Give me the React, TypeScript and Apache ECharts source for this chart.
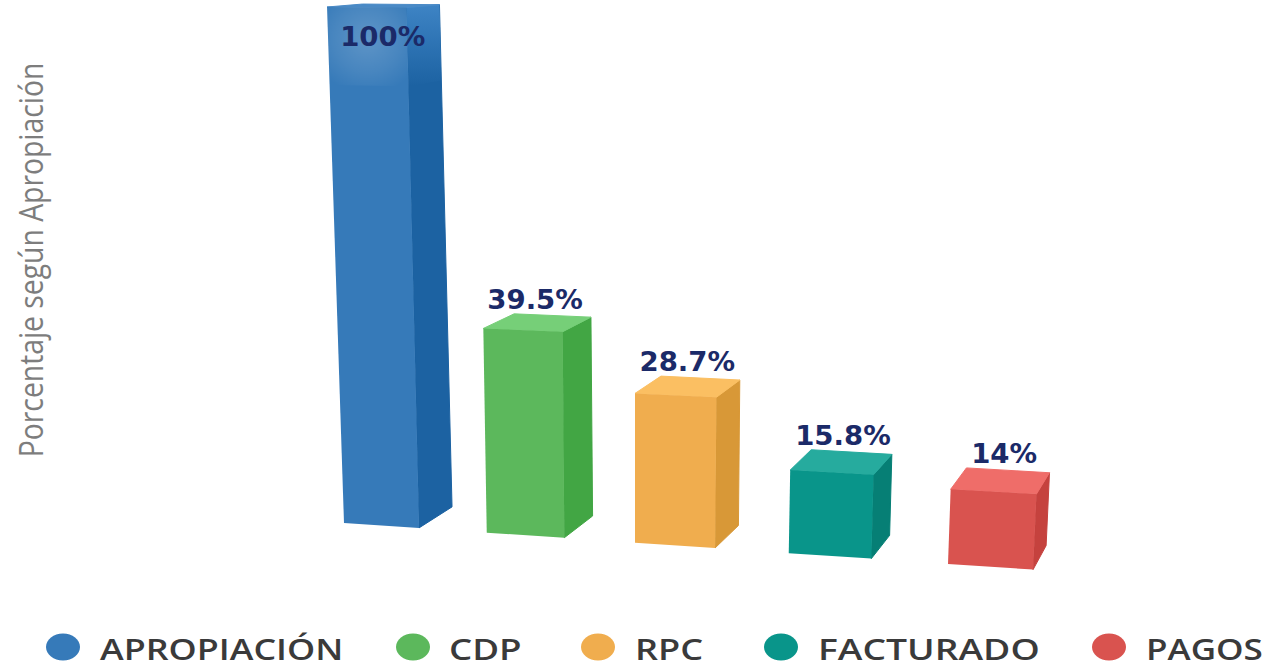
import React, { useEffect, useRef } from "react";
import * as echarts from "echarts";

const categories = ["APROPIACIÓN", "CDP", "RPC", "FACTURADO", "PAGOS"];
const percentages = [100, 39.5, 28.7, 15.8, 14];
const percentLabels = ["100%", "39.5%", "28.7%", "15.8%", "14%"];
const frontColors = ["#367ab9", "#5cb85c", "#f0ad4e", "#09958a", "#d9534f"];
const sideColors = ["#1c62a2", "#42a644", "#d89837", "#067f75", "#c5423e"];
const topColors = ["#4a8ac6", "#76cf78", "#fbbf62", "#26ab9e", "#ef6d69"];
const axisTitle = "Porcentaje según Apropiación";

const legendCircleX = [63, 413, 598, 781, 1109];
const legendTextX = [100, 449, 635, 818, 1146];
const legendScaleX = [1.28, 1.31, 1.29, 1.33, 1.25];

const renderBar = (params: any, api: any) => {
  const i = api.value(0);
  const v = api.value(1);
  const first = api.coord([0, 0]);
  const zero = api.coord([i, 0]);
  const t = i / 4;
  const xl = zero[0] - 44 * t * (1 - t);
  const xr = xl + api.size([1, 0])[0] * (0.497 + 0.0166 * i);
  const vanishX = api.coord([2, 0])[0] - 11;
  const yBase = first[1] + 0.068 * (xl - first[0]);
  const hFor = (val: number) => (zero[1] - api.coord([i, val])[1]) * (1 + 0.0022 * i * i);
  const project = (x: number, h: number) => [
    x + (x - vanishX) * h * 1.13e-4,
    yBase + (x - xl) * (0.065 - h * 0.00011) - h,
  ];
  const back = (p: number[], x: number, h: number) => [
    p[0] + 33 - 0.0325 * (x - 419),
    p[1] - 21 - 0.75 * i + h * 0.035,
  ];
  const h = hFor(v);
  const fbl = project(xl, 0);
  const fbr = project(xr, 0);
  const ftl = project(xl, h);
  const ftr = project(xr, h);
  const bbr = back(fbr, xr, 0);
  const btr = back(ftr, xr, h);
  const btl = back(ftl, xl, h);
  const children: any[] = [
    {
      type: "polygon",
      shape: { points: [ftr, btr, bbr, fbr] },
      style: { fill: sideColors[i], stroke: sideColors[i], lineWidth: 1 },
    },
    {
      type: "polygon",
      shape: { points: [ftl, btl, btr, ftr] },
      style: { fill: topColors[i], stroke: topColors[i], lineWidth: 1 },
    },
    { type: "polygon", shape: { points: [ftl, ftr, fbr, fbl] }, style: { fill: frontColors[i] } },
  ];
  const inside = v >= 100;
  if (inside) {
    const hLow = h - 78;
    const l2 = project(xl, hLow);
    const r2 = project(xr, hLow);
    const br2 = back(r2, xr, hLow);
    children.push(
      {
        type: "polygon",
        shape: { points: [ftl, ftr, r2, l2] },
        style: {
          fill: new echarts.graphic.RadialGradient(0.5, 0.4, 0.7, [
            { offset: 0, color: "rgba(255,255,255,0.2)" },
            { offset: 0.6, color: "rgba(255,255,255,0.09)" },
            { offset: 1, color: "rgba(255,255,255,0)" },
          ]),
        },
      },
      {
        type: "polygon",
        shape: { points: [ftr, btr, br2, r2] },
        style: {
          fill: new echarts.graphic.LinearGradient(0, 0, 0, 1, [
            { offset: 0, color: "rgba(70,140,205,0.8)" },
            { offset: 1, color: "rgba(70,140,205,0)" },
          ]),
        },
      },
    );
  }
  const labelX = (ftl[0] + ftr[0]) / 2 + (inside ? 16 : 9 + (btl[0] - ftl[0]) * 0.1);
  const labelY = inside ? ftl[1] + 30 : btl[1] - 14;
  children.push({
    type: "text",
    x: labelX,
    y: labelY,
    scaleX: 1.06,
    style: {
      text: percentLabels[i],
      fontFamily: "DejaVu Sans",
      fontWeight: "bold",
      fontSize: 26,
      fill: "#1b2a68",
      align: "center",
      verticalAlign: "middle",
    },
  });
  return { type: "group", children };
};

export default function App() {
  const ref = useRef<HTMLDivElement>(null);
  useEffect(() => {
    const chart = echarts.init(ref.current!, null, { renderer: "svg" });
    chart.setOption({
      animation: false,
      backgroundColor: "#ffffff",
      grid: { left: 268.5, width: 755, top: 7, height: 516, outerBoundsMode: "none" },
      xAxis: { type: "category", data: categories, show: false },
      yAxis: {
        type: "value",
        min: 0,
        max: 100,
        axisLine: { show: false },
        axisTick: { show: false },
        axisLabel: { show: false },
        splitLine: { show: false },
      },
      graphic: [
        {
          type: "text",
          x: 31,
          y: 260,
          rotation: Math.PI / 2,
          scaleX: 0.885,
          style: {
            text: axisTitle,
            fontFamily: "Open Sans",
            fontSize: 32,
            lineHeight: 40,
            fill: "#7d7d7d",
            align: "center",
            verticalAlign: "middle",
          },
        },
        ...categories.flatMap((name, i) => [
          {
            type: "ellipse",
            shape: { cx: legendCircleX[i], cy: 647, rx: 17, ry: 13.5 },
            style: { fill: frontColors[i] },
          },
          {
            type: "text",
            x: legendTextX[i],
            y: 649,
            scaleX: legendScaleX[i],
            style: {
              text: name,
              fontFamily: "Open Sans",
              fontWeight: 600,
              fontSize: 28,
              lineHeight: 24,
              fill: "#3a3a3a",
              align: "left",
              verticalAlign: "middle",
            },
          },
        ]),
      ],
      series: categories.map((name, i) => ({
        type: "custom",
        name,
        renderItem: renderBar,
        itemStyle: { color: frontColors[i] },
        encode: { x: 0, y: 1 },
        data: [[i, percentages[i]]],
      })),
    });
    return () => chart.dispose();
  }, []);
  return (
    <div
      ref={ref}
      style={{ position: "absolute", left: 0, top: 0, width: 1265, height: 662 }}
    />
  );
}
